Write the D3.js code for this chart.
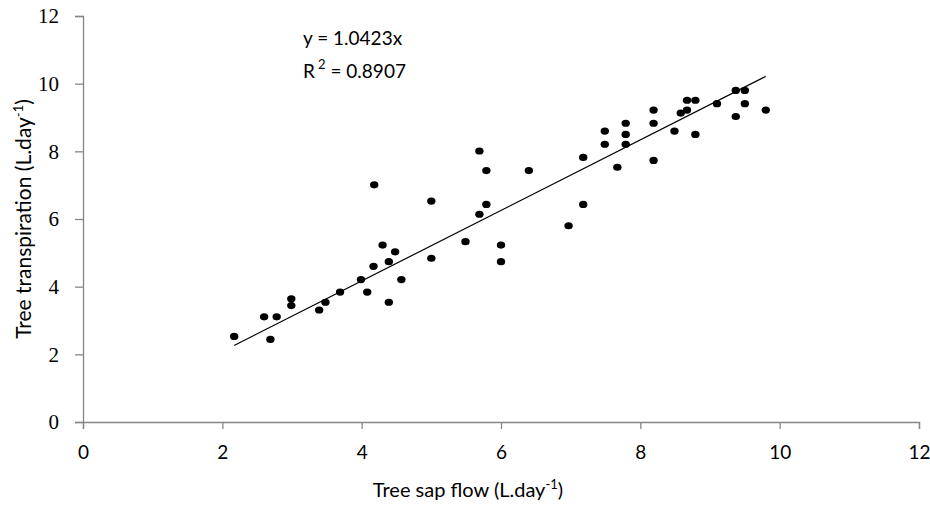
<!DOCTYPE html>
<html>
<head>
<meta charset="utf-8">
<script src="https://cdn.jsdelivr.net/npm/d3@7"></script>
<style>
  html, body { margin: 0; padding: 0; background: #fff; }
  svg { display: block; }
</style>
</head>
<body>
<svg id="chart" width="930" height="508"></svg>
<script>
// sap flow (x) vs transpiration (y)
const sapFlow = [
  2.17, 2.60, 2.69, 2.78, 2.99, 2.99, 3.39, 3.48, 3.69, 3.99,
  4.08, 4.17, 4.39, 4.39, 4.57, 4.30, 4.48, 4.18, 5.00, 5.00,
  5.49, 5.69, 5.79, 5.79, 5.69, 6.00, 6.00, 6.40, 6.97, 7.18,
  7.18, 7.49, 7.49, 7.67, 7.79, 7.79, 7.79, 8.19, 8.19, 8.19,
  8.49, 8.58, 8.67, 8.67, 8.79, 8.79, 9.10, 9.37, 9.50, 9.37,
  9.50, 9.80
];
const transpiration = [
  2.53, 3.11, 2.44, 3.11, 3.64, 3.44, 3.31, 3.54, 3.84, 4.21,
  3.84, 4.60, 4.74, 3.54, 4.21, 5.23, 5.03, 7.01, 6.53, 4.84,
  5.33, 8.01, 7.43, 6.43, 6.14, 5.23, 4.74, 7.43, 5.80, 6.43,
  7.82, 8.60, 8.21, 7.53, 8.83, 8.50, 8.21, 9.22, 8.83, 7.73,
  8.60, 9.13, 9.22, 9.51, 9.51, 8.50, 9.41, 9.80, 9.80, 9.03,
  9.41, 9.22
];
const slope = 1.0423;
const rSquared = "0.8907";
const xTicks = [0, 2, 4, 6, 8, 10, 12];
const yTicks = [0, 2, 4, 6, 8, 10, 12];

const sansFont = "Lato, 'Open Sans', sans-serif";
const serifFont = "'Liberation Serif', 'DejaVu Serif', serif";
const axisGrey = "#868686";

const svg = d3.select("#chart");
const margin = { top: 16, right: 11, bottom: 86, left: 83 };
const width = 930 - margin.left - margin.right;
const height = 508 - margin.top - margin.bottom;

const g = svg.append("g").attr("transform", `translate(${margin.left},${margin.top})`);

const x = d3.scaleLinear().domain([0, 12]).range([0, width]);
const y = d3.scaleLinear().domain([0, 12]).range([height, 0]);

const points = sapFlow.map((v, i) => ({ x: v, y: transpiration[i] }));

// y axis (serif labels, ticks outside)
const yAxis = g.append("g")
  .call(d3.axisLeft(y).tickValues(yTicks).tickSize(8).tickPadding(16).tickFormat(d3.format("d")));
yAxis.select(".domain").attr("stroke", axisGrey).attr("stroke-width", 1.3);
yAxis.selectAll(".tick line").attr("stroke", axisGrey).attr("stroke-width", 1.3);
yAxis.selectAll(".tick text")
  .attr("fill", "#000")
  .style("font-family", serifFont)
  .style("font-size", "21px");

// x axis
const xAxis = g.append("g")
  .attr("transform", `translate(0,${height})`)
  .call(d3.axisBottom(x).tickValues(xTicks).tickSize(7).tickPadding(17).tickFormat(d3.format("d")));
xAxis.select(".domain").attr("stroke", axisGrey).attr("stroke-width", 1.3);
xAxis.selectAll(".tick line").attr("stroke", axisGrey).attr("stroke-width", 1.3);
xAxis.selectAll(".tick text")
  .attr("fill", "#000")
  .style("font-family", sansFont)
  .style("font-size", "19px");

// trend line through origin, drawn over the data range
const [xMin, xMax] = d3.extent(sapFlow);
g.append("line")
  .attr("x1", x(xMin))
  .attr("y1", y(slope * xMin))
  .attr("x2", x(xMax))
  .attr("y2", y(slope * xMax))
  .attr("stroke", "#000")
  .attr("stroke-width", 1.2);

g.selectAll("ellipse.pt")
  .data(points)
  .join("ellipse")
  .attr("class", "pt")
  .attr("cx", d => x(d.x))
  .attr("cy", d => y(d.y))
  .attr("rx", 4.2)
  .attr("ry", 3.6)
  .attr("fill", "#000");

// equation
const eq = g.append("g").style("font-family", sansFont).style("font-size", "19px").attr("fill", "#000");
eq.append("text").attr("x", 220).attr("y", 29).text(`y = ${slope}x`);
const r2 = eq.append("text").attr("x", 220).attr("y", 62);
r2.append("tspan").text("R");
r2.append("tspan").attr("dy", -9).style("font-size", "13px").attr("dx", 3).text("2");
r2.append("tspan").attr("dy", 9).attr("dx", 5).text(`= ${rSquared}`);

// axis titles
const xt = svg.append("text")
  .attr("x", 468)
  .attr("y", 497)
  .attr("text-anchor", "middle")
  .style("font-family", sansFont)
  .style("font-size", "20px")
  .attr("fill", "#000");
xt.append("tspan").text("Tree sap flow (L.day");
xt.append("tspan").attr("dy", -8).style("font-size", "13px").text("-1");
xt.append("tspan").attr("dy", 8).text(")");

const yt = svg.append("text")
  .attr("transform", "translate(31,219) rotate(-90)")
  .attr("text-anchor", "middle")
  .style("font-family", sansFont)
  .style("font-size", "21px")
  .attr("fill", "#000");
yt.append("tspan").text("Tree transpiration (L.day");
yt.append("tspan").attr("dy", -8).style("font-size", "13px").text("-1");
yt.append("tspan").attr("dy", 8).text(")");
</script>
</body>
</html>
